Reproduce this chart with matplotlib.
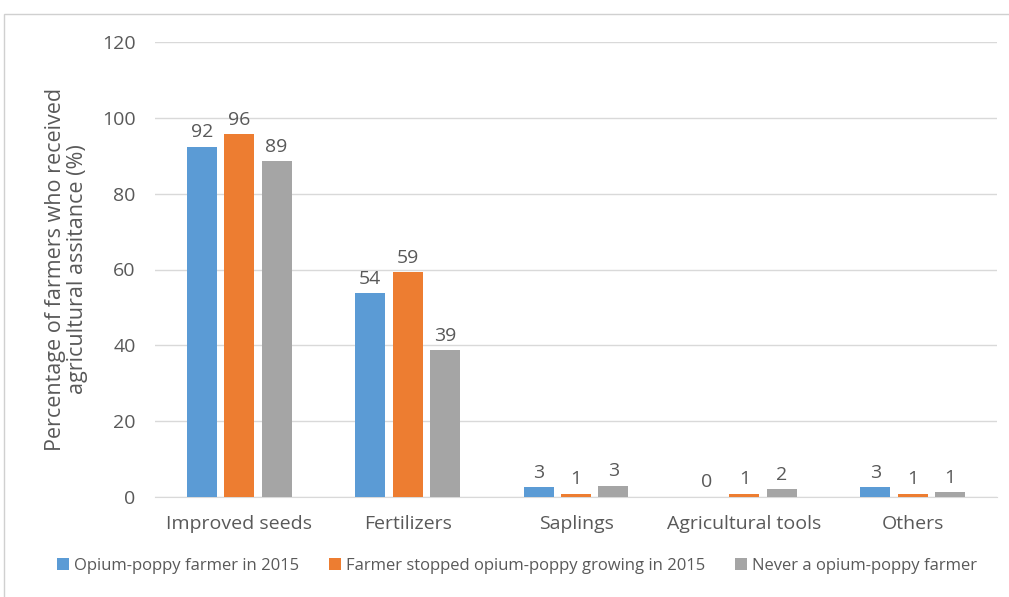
import matplotlib
matplotlib.use("Agg")
import matplotlib.pyplot as plt
import numpy as np
from matplotlib.patches import Rectangle

categories = ["Improved seeds", "Fertilizers", "Saplings", "Agricultural tools", "Others"]
series_names = ["Opium-poppy farmer in 2015",
                "Farmer stopped opium-poppy growing in 2015",
                "Never a opium-poppy farmer"]
opium_2015 = [92.4, 53.7, 2.6, 0.0, 2.6]
stopped_2015 = [95.7, 59.3, 0.8, 0.8, 0.8]
never = [88.6, 38.7, 2.9, 2.0, 1.2]
labels_opium = ["92", "54", "3", "0", "3"]
labels_stopped = ["96", "59", "1", "1", "1"]
labels_never = ["89", "39", "3", "2", "1"]
yticks = [0, 20, 40, 60, 80, 100, 120]

colors = ["#5B9BD5", "#ED7D31", "#A5A5A5"]
txt = "#595959"
plt.rcParams['font.family'] = ['Open Sans', 'DejaVu Sans']

fig = plt.figure(figsize=(10.09, 5.97), dpi=100)
fig.patches.append(Rectangle((4/1009, -0.01), 1.02, 1 - 14/597 + 0.01, transform=fig.transFigure,
                             fill=False, edgecolor="#d0d0d0", linewidth=1.0))
ax = fig.add_axes([155/1009, 1 - 497/597, (997-155)/1009, (497-42)/597])

x = np.arange(len(categories))
w = 0.178
pitch = 0.222
allseries = [opium_2015, stopped_2015, never]
alllabels = [labels_opium, labels_stopped, labels_never]
for i, (vals, labs) in enumerate(zip(allseries, alllabels)):
    pos = x + (i - 1) * pitch
    bars = ax.bar(pos, vals, width=w, color=colors[i], label=series_names[i], zorder=3)
    for b, lab in zip(bars, labs):
        ax.annotate(lab, (b.get_x() + b.get_width() / 2, b.get_height()),
                    xytext=(0, 4), textcoords="offset points", ha="center", va="bottom",
                    fontsize=14, color=txt)

ax.set_ylim(0, 120)
ax.set_xlim(-0.5, 4.5)
ax.set_yticks(yticks)
ax.set_xticks(x)
ax.set_xticklabels(categories)
ax.grid(axis="y", color="#d9d9d9", linewidth=1.0, zorder=0)
for s in ["top", "right", "left"]:
    ax.spines[s].set_visible(False)
ax.spines["bottom"].set_color("#d9d9d9")
ax.tick_params(axis="both", length=0, labelsize=14, colors=txt)
ax.tick_params(axis="y", pad=14)
ax.tick_params(axis="x", pad=13)
ax.set_ylabel("Percentage of farmers who received\nagricultural assitance (%)",
              fontsize=15.5, color=txt, labelpad=10, linespacing=1.05)

leg = fig.legend(loc="center", bbox_to_anchor=(517/1009, 1 - 566/597), ncol=3,
                 frameon=False, prop={'size': 12},
                 handlelength=0.7, handleheight=0.7,
                 handletextpad=0.3, columnspacing=1.8)
for t in leg.get_texts():
    t.set_color(txt)

fig.savefig("out.png", dpi=100)
